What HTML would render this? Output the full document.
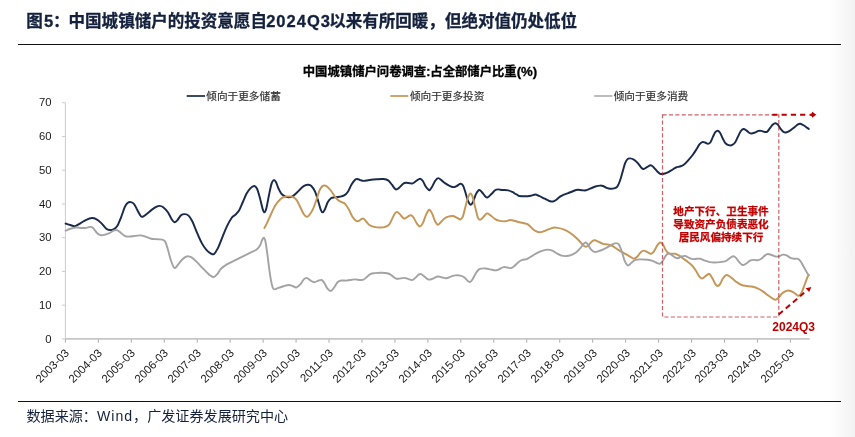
<!DOCTYPE html>
<html lang="zh"><head><meta charset="utf-8"><title>图5</title>
<style>
html,body{margin:0;padding:0;background:#fff;}
body{width:855px;height:437px;position:relative;overflow:hidden;font-family:"Liberation Sans","Noto Sans CJK SC",sans-serif;}
.grad{position:absolute;left:830px;top:0;width:25px;height:437px;background:linear-gradient(to right,#ffffff 0%,#f9f9f9 45%,#f2f2f2 100%);}
.title{position:absolute;left:26.3px;top:9.6px;-webkit-text-stroke:0.3px #14213d;font-size:16.55px;line-height:24px;font-weight:bold;color:#14213d;white-space:nowrap;}
.hr{position:absolute;left:18px;width:823px;height:1.3px;background:#111;}
.src{position:absolute;left:26.5px;top:406px;font-size:14.1px;line-height:20px;color:#14213d;white-space:nowrap;}
.src span{letter-spacing:1px;}
.title i{font-style:normal;position:relative;left:1.1px;}
.title span{letter-spacing:1px;margin-left:-0.8px;margin-right:-1.8px;}
.ct{position:absolute;left:300px;width:240px;top:62.8px;text-align:center;font-size:12.35px;line-height:18px;font-weight:bold;color:#000;white-space:nowrap;-webkit-text-stroke:0.3px #000;}
.ct span{font-size:13.2px;}
.lg{position:absolute;top:88.2px;font-size:10.65px;line-height:16px;color:#333;-webkit-text-stroke:0.2px #333;white-space:nowrap;}
.yl{position:absolute;left:19.6px;width:32px;text-align:right;font-size:11.3px;line-height:14px;color:#1a1a1a;}
.xl{position:absolute;top:343.9px;width:60px;text-align:right;font-size:11.4px;line-height:14px;color:#1a1a1a;transform-origin:100% 50%;transform:rotate(-45deg);white-space:nowrap;}
.note{position:absolute;left:661px;width:120px;top:205.3px;text-align:center;font-size:10.6px;line-height:13px;font-weight:bold;color:#c00000;-webkit-text-stroke:0.25px #c00000;white-space:nowrap;}
.q3{position:absolute;left:772.3px;top:319.9px;font-size:12px;line-height:14px;font-weight:bold;color:#c00000;white-space:nowrap;}
svg{position:absolute;left:0;top:0;}
</style></head><body>
<div class="grad"></div>
<div class="title">图<i>5：</i>中国城镇储户的投资意愿自<span>2024Q3</span>以来有所回暖，但绝对值仍处低位</div>
<div class="hr" style="top:44px"></div>
<div class="ct">中国城镇储户问卷调查:占全部储户比重<span>(%)</span></div>
<div class="lg" style="left:206.3px">倾向于更多储蓄</div>
<div class="lg" style="left:409.9px">倾向于更多投资</div>
<div class="lg" style="left:613.7px">倾向于更多消费</div>
<div class="yl" style="top:331.5px">0</div><div class="yl" style="top:297.8px">10</div><div class="yl" style="top:264.1px">20</div><div class="yl" style="top:230.3px">30</div><div class="yl" style="top:196.6px">40</div><div class="yl" style="top:162.8px">50</div><div class="yl" style="top:129.1px">60</div><div class="yl" style="top:95.4px">70</div>
<div class="xl" style="left:7.40px">2003-03</div><div class="xl" style="left:40.35px">2004-03</div><div class="xl" style="left:73.31px">2005-03</div><div class="xl" style="left:106.26px">2006-03</div><div class="xl" style="left:139.22px">2007-03</div><div class="xl" style="left:172.17px">2008-03</div><div class="xl" style="left:205.13px">2009-03</div><div class="xl" style="left:238.08px">2010-03</div><div class="xl" style="left:271.04px">2011-03</div><div class="xl" style="left:303.99px">2012-03</div><div class="xl" style="left:336.95px">2013-03</div><div class="xl" style="left:369.90px">2014-03</div><div class="xl" style="left:402.85px">2015-03</div><div class="xl" style="left:435.81px">2016-03</div><div class="xl" style="left:468.76px">2017-03</div><div class="xl" style="left:501.72px">2018-03</div><div class="xl" style="left:534.67px">2019-03</div><div class="xl" style="left:567.63px">2020-03</div><div class="xl" style="left:600.58px">2021-03</div><div class="xl" style="left:633.54px">2022-03</div><div class="xl" style="left:666.49px">2023-03</div><div class="xl" style="left:699.45px">2024-03</div><div class="xl" style="left:732.40px">2025-03</div>
<svg width="855" height="437" viewBox="0 0 855 437" fill="none">
<g stroke="#cccccc" stroke-width="1">
<line x1="65.4" y1="102.7" x2="65.4" y2="338.9"/>
<line x1="61.9" y1="338.90" x2="65.4" y2="338.90"/><line x1="61.9" y1="305.16" x2="65.4" y2="305.16"/><line x1="61.9" y1="271.42" x2="65.4" y2="271.42"/><line x1="61.9" y1="237.68" x2="65.4" y2="237.68"/><line x1="61.9" y1="203.94" x2="65.4" y2="203.94"/><line x1="61.9" y1="170.20" x2="65.4" y2="170.20"/><line x1="61.9" y1="136.46" x2="65.4" y2="136.46"/><line x1="61.9" y1="102.72" x2="65.4" y2="102.72"/>
</g>
<g stroke="#a8a8a8" stroke-width="1">
<line x1="65.40" y1="338.9" x2="65.40" y2="342.6"/><line x1="98.35" y1="338.9" x2="98.35" y2="342.6"/><line x1="131.31" y1="338.9" x2="131.31" y2="342.6"/><line x1="164.26" y1="338.9" x2="164.26" y2="342.6"/><line x1="197.22" y1="338.9" x2="197.22" y2="342.6"/><line x1="230.17" y1="338.9" x2="230.17" y2="342.6"/><line x1="263.13" y1="338.9" x2="263.13" y2="342.6"/><line x1="296.08" y1="338.9" x2="296.08" y2="342.6"/><line x1="329.04" y1="338.9" x2="329.04" y2="342.6"/><line x1="361.99" y1="338.9" x2="361.99" y2="342.6"/><line x1="394.95" y1="338.9" x2="394.95" y2="342.6"/><line x1="427.90" y1="338.9" x2="427.90" y2="342.6"/><line x1="460.85" y1="338.9" x2="460.85" y2="342.6"/><line x1="493.81" y1="338.9" x2="493.81" y2="342.6"/><line x1="526.76" y1="338.9" x2="526.76" y2="342.6"/><line x1="559.72" y1="338.9" x2="559.72" y2="342.6"/><line x1="592.67" y1="338.9" x2="592.67" y2="342.6"/><line x1="625.63" y1="338.9" x2="625.63" y2="342.6"/><line x1="658.58" y1="338.9" x2="658.58" y2="342.6"/><line x1="691.54" y1="338.9" x2="691.54" y2="342.6"/><line x1="724.49" y1="338.9" x2="724.49" y2="342.6"/><line x1="757.45" y1="338.9" x2="757.45" y2="342.6"/><line x1="790.40" y1="338.9" x2="790.40" y2="342.6"/>
</g>
<line x1="65.4" y1="338.85" x2="809.6" y2="338.85" stroke="#c6c6c6" stroke-width="1.9"/>
<line x1="186.7" y1="96" x2="205" y2="96" stroke="#1a2a4b" stroke-width="1.7"/>
<line x1="390.3" y1="96" x2="408.3" y2="96" stroke="#c59656" stroke-width="1.7"/>
<line x1="594.1" y1="96" x2="612.4" y2="96" stroke="#a6a6a6" stroke-width="1.5"/>
<g stroke-linecap="round" stroke-linejoin="round" stroke-width="1.95">
<path stroke="#1a2a4b" d="M65.63,223.52C66.41,223.77 68.76,224.59 70.32,225.02C71.88,225.46 73.29,226.46 75.01,226.15C76.73,225.84 78.76,224.21 80.64,223.15C82.52,222.08 84.39,220.61 86.27,219.77C88.15,218.92 90.18,218.14 91.90,218.08C93.62,218.02 95.03,218.55 96.59,219.39C98.15,220.24 99.72,221.65 101.28,223.15C102.85,224.65 104.57,227.24 105.97,228.40C107.38,229.56 108.47,229.93 109.73,230.09C110.98,230.25 112.23,230.03 113.48,229.34C114.73,228.65 115.98,227.93 117.23,225.96C118.48,223.99 119.73,220.64 120.98,217.52C122.23,214.39 123.64,209.60 124.74,207.20C125.83,204.79 126.55,203.91 127.55,203.07C128.55,202.22 129.65,201.97 130.74,202.13C131.84,202.29 133.02,202.69 134.12,204.01C135.21,205.32 136.21,208.01 137.31,210.01C138.40,212.01 139.81,214.89 140.69,216.02C141.56,217.14 141.62,217.05 142.56,216.77C143.50,216.49 144.75,215.52 146.32,214.33C147.88,213.14 150.23,210.92 151.95,209.64C153.67,208.35 155.39,207.26 156.64,206.63C157.89,206.01 158.36,205.79 159.45,205.88C160.55,205.98 161.80,206.13 163.20,207.20C164.61,208.26 166.42,210.17 167.89,212.26C169.36,214.36 170.93,218.11 172.02,219.77C173.12,221.43 173.59,222.11 174.46,222.21C175.34,222.30 176.18,221.49 177.28,220.33C178.37,219.17 179.78,216.30 181.03,215.27C182.28,214.23 183.53,214.08 184.78,214.14C186.03,214.20 187.28,214.45 188.54,215.64C189.79,216.83 190.88,218.46 192.29,221.27C193.70,224.08 195.42,228.93 196.98,232.53C198.54,236.13 200.11,239.97 201.67,242.85C203.23,245.73 204.80,248.01 206.36,249.79C207.93,251.57 209.80,252.83 211.05,253.54C212.30,254.26 212.79,254.88 213.87,254.11C214.94,253.34 216.12,251.67 217.51,248.93C218.89,246.19 220.63,241.43 222.20,237.68C223.76,233.92 225.32,229.70 226.89,226.42C228.45,223.13 230.17,219.91 231.58,217.97C232.99,216.03 234.08,216.03 235.33,214.78C236.58,213.53 237.83,212.59 239.08,210.47C240.34,208.34 241.59,204.84 242.84,202.02C244.09,199.21 245.34,195.86 246.59,193.58C247.84,191.30 249.09,189.58 250.34,188.32C251.59,187.07 253.00,186.04 254.10,186.07C255.19,186.10 255.97,186.64 256.91,188.51C257.85,190.39 258.79,193.99 259.73,197.33C260.66,200.68 261.76,206.09 262.54,208.59C263.32,211.09 263.79,212.34 264.42,212.34C265.04,212.34 265.51,211.56 266.29,208.59C267.07,205.62 268.23,198.68 269.11,194.52C269.98,190.36 270.77,186.04 271.55,183.63C272.33,181.23 273.05,180.29 273.80,180.07C274.55,179.85 275.27,180.91 276.05,182.32C276.83,183.73 277.61,186.64 278.49,188.51C279.37,190.39 280.21,192.27 281.30,193.58C282.40,194.89 283.81,195.77 285.06,196.39C286.31,197.02 287.56,197.33 288.81,197.33C290.06,197.33 291.16,197.24 292.56,196.39C293.97,195.55 295.69,193.77 297.25,192.27C298.82,190.76 300.54,188.58 301.95,187.39C303.35,186.20 304.70,185.57 305.70,185.14C306.70,184.70 307.01,184.60 307.95,184.76C308.89,184.92 310.14,184.92 311.33,186.07C312.52,187.23 313.99,189.36 315.08,191.70C316.17,194.05 316.96,197.18 317.89,200.15C318.83,203.12 319.93,207.50 320.71,209.53C321.49,211.56 321.90,212.34 322.59,212.34C323.27,212.34 323.96,211.25 324.84,209.53C325.71,207.81 326.81,203.90 327.84,202.02C328.87,200.15 329.87,199.05 331.03,198.27C332.19,197.49 333.38,197.58 334.78,197.33C336.19,197.08 337.91,197.08 339.47,196.77C341.04,196.46 342.76,196.30 344.16,195.46C345.57,194.61 346.67,193.58 347.92,191.70C349.17,189.83 350.42,186.23 351.67,184.20C352.92,182.16 354.49,180.38 355.42,179.51C356.36,178.63 356.52,178.85 357.30,178.94C358.08,179.04 359.03,179.75 360.11,180.07C361.20,180.39 362.27,180.89 363.81,180.88C365.35,180.87 367.20,180.28 369.38,180.01C371.56,179.74 374.54,179.42 376.89,179.26C379.23,179.10 381.58,178.89 383.46,179.07C385.33,179.26 386.74,179.45 388.15,180.39C389.55,181.32 390.80,183.36 391.90,184.70C392.99,186.05 393.93,187.67 394.71,188.46C395.50,189.24 395.81,189.55 396.59,189.39C397.37,189.24 398.31,188.46 399.41,187.52C400.50,186.58 402.06,184.55 403.16,183.76C404.25,182.98 404.88,182.92 405.97,182.83C407.07,182.73 408.63,183.11 409.73,183.20C410.82,183.30 411.45,183.76 412.54,183.39C413.63,183.01 415.04,181.73 416.29,180.95C417.54,180.17 418.95,178.70 420.05,178.70C421.14,178.70 421.92,179.64 422.86,180.95C423.80,182.26 424.74,185.11 425.68,186.58C426.61,188.05 427.80,189.21 428.49,189.77C429.18,190.33 429.18,190.49 429.80,189.96C430.43,189.42 431.37,188.08 432.24,186.58C433.12,185.08 434.06,182.36 435.06,180.95C436.06,179.54 437.15,178.23 438.25,178.14C439.34,178.04 440.44,179.51 441.62,180.39C442.81,181.26 443.97,182.45 445.38,183.39C446.78,184.33 448.66,185.39 450.07,186.02C451.48,186.64 452.73,187.14 453.82,187.14C454.92,187.14 455.54,186.58 456.64,186.02C457.73,185.45 459.36,183.89 460.39,183.76C461.42,183.64 462.05,184.01 462.83,185.27C463.61,186.52 464.24,188.71 465.08,191.27C465.92,193.83 466.96,198.40 467.89,200.65C468.83,202.90 469.83,204.62 470.71,204.78C471.59,204.94 472.27,203.37 473.15,201.59C474.02,199.81 474.96,196.02 475.96,194.08C476.96,192.15 478.15,190.27 479.15,189.96C480.15,189.64 480.94,191.11 481.97,192.21C483.00,193.30 484.41,195.65 485.35,196.52C486.28,197.40 486.60,197.87 487.60,197.46C488.60,197.06 490.10,195.27 491.35,194.08C492.60,192.90 494.01,191.11 495.10,190.33C496.20,189.55 496.67,189.46 497.92,189.39C499.17,189.33 500.89,189.80 502.61,189.96C504.33,190.11 506.52,189.96 508.24,190.33C509.96,190.71 511.85,191.68 512.93,192.21C514.00,192.73 513.91,193.01 514.69,193.48C515.47,193.95 516.84,194.62 517.62,195.02C518.40,195.43 518.15,195.71 519.38,195.92C520.61,196.13 523.14,196.32 525.01,196.29C526.89,196.26 528.92,196.04 530.64,195.73C532.36,195.42 533.92,194.39 535.33,194.42C536.74,194.45 537.52,195.20 539.08,195.92C540.65,196.64 542.99,197.89 544.71,198.73C546.43,199.58 548.06,200.51 549.41,200.98C550.75,201.45 551.69,201.70 552.78,201.55C553.88,201.39 554.82,200.83 555.97,200.05C557.13,199.26 558.47,197.73 559.73,196.86C560.98,195.98 562.07,195.42 563.48,194.79C564.89,194.17 566.61,193.70 568.17,193.10C569.73,192.51 571.30,191.79 572.86,191.23C574.42,190.66 575.99,189.88 577.55,189.73C579.12,189.57 580.84,190.19 582.24,190.29C583.65,190.38 584.59,190.60 586.00,190.29C587.40,189.98 589.12,189.04 590.69,188.41C592.25,187.79 593.81,187.00 595.38,186.54C596.94,186.07 598.82,185.69 600.07,185.60C601.32,185.50 601.79,185.60 602.88,185.97C603.98,186.35 605.39,187.38 606.64,187.85C607.89,188.32 609.14,188.69 610.39,188.79C611.64,188.88 612.98,188.79 614.14,188.41C615.30,188.04 616.39,187.72 617.33,186.54C618.27,185.35 618.90,183.72 619.77,181.28C620.65,178.84 621.71,174.87 622.59,171.90C623.46,168.93 624.24,165.55 625.03,163.46C625.81,161.36 626.43,160.17 627.28,159.33C628.12,158.48 629.00,158.33 630.09,158.39C631.19,158.45 632.59,158.95 633.84,159.70C635.10,160.45 636.35,161.55 637.60,162.89C638.85,164.24 640.32,166.74 641.35,167.77C642.38,168.80 642.85,169.18 643.79,169.08C644.73,168.99 645.82,167.83 646.98,167.21C648.14,166.58 649.64,165.33 650.73,165.33C651.83,165.33 652.45,166.18 653.55,167.21C654.64,168.24 656.21,170.43 657.30,171.52C658.39,172.62 659.18,173.37 660.11,173.78C661.05,174.18 661.85,174.10 662.93,173.96C664.00,173.82 665.18,173.54 666.57,172.93C667.96,172.32 669.69,171.21 671.26,170.30C672.82,169.39 674.54,168.11 675.95,167.49C677.36,166.86 678.45,166.95 679.70,166.55C680.95,166.14 682.05,166.08 683.46,165.05C684.86,164.01 686.58,162.07 688.15,160.35C689.71,158.63 691.43,156.60 692.84,154.73C694.24,152.85 695.50,150.82 696.59,149.10C697.68,147.38 698.47,145.56 699.41,144.41C700.34,143.25 701.28,142.47 702.22,142.15C703.16,141.84 704.10,142.25 705.03,142.53C705.97,142.81 706.97,143.84 707.85,143.84C708.72,143.84 709.44,143.69 710.29,142.53C711.13,141.37 712.07,138.62 712.92,136.90C713.76,135.18 714.54,133.24 715.35,132.21C716.17,131.18 717.01,130.61 717.79,130.71C718.58,130.80 719.20,131.43 720.05,132.77C720.89,134.12 721.92,136.99 722.86,138.78C723.80,140.56 724.58,142.37 725.68,143.47C726.77,144.56 728.33,145.09 729.43,145.34C730.52,145.59 731.30,145.44 732.24,144.97C733.18,144.50 734.12,143.87 735.06,142.53C736.00,141.18 736.93,138.78 737.87,136.90C738.81,135.02 739.75,132.58 740.69,131.27C741.62,129.96 742.56,129.17 743.50,129.02C744.44,128.86 745.38,129.71 746.32,130.33C747.25,130.96 748.25,132.24 749.13,132.77C750.01,133.30 750.63,133.55 751.57,133.52C752.51,133.49 753.60,133.02 754.76,132.58C755.92,132.15 757.42,131.18 758.51,130.89C759.61,130.61 760.39,130.74 761.33,130.89C762.27,131.05 763.20,131.68 764.14,131.83C765.08,131.99 766.02,132.40 766.96,131.83C767.89,131.27 768.83,129.64 769.77,128.46C770.71,127.27 771.65,125.58 772.59,124.70C773.52,123.83 774.52,123.20 775.40,123.20C776.28,123.20 776.90,123.67 777.84,124.70C778.78,125.73 780.03,128.14 781.03,129.39C782.03,130.64 782.91,131.74 783.84,132.21C784.78,132.68 785.56,132.52 786.66,132.21C787.75,131.90 789.16,131.11 790.41,130.33C791.66,129.55 792.91,128.52 794.16,127.52C795.42,126.52 796.89,124.95 797.92,124.33C798.95,123.70 799.42,123.61 800.36,123.76C801.30,123.92 802.39,124.58 803.55,125.27C804.70,125.95 806.42,127.27 807.30,127.89C808.18,128.52 808.55,128.83 808.80,129.02"/>
<path stroke="#c59656" d="M264.42,227.92C264.89,227.04 266.14,224.95 267.23,222.66C268.33,220.38 269.58,217.19 270.98,214.22C272.39,211.25 274.11,207.34 275.68,204.84C277.24,202.34 278.96,200.52 280.37,199.21C281.77,197.89 282.71,197.43 284.12,196.96C285.53,196.49 287.25,196.33 288.81,196.39C290.37,196.46 292.19,196.71 293.50,197.33C294.81,197.96 295.60,198.58 296.69,200.15C297.79,201.71 298.88,204.37 300.07,206.71C301.26,209.06 302.73,212.56 303.82,214.22C304.92,215.88 305.70,216.57 306.64,216.66C307.57,216.75 308.36,216.13 309.45,214.78C310.55,213.44 311.95,211.34 313.20,208.59C314.45,205.84 315.86,201.40 316.96,198.27C318.05,195.14 318.83,191.86 319.77,189.83C320.71,187.79 321.80,186.79 322.59,186.07C323.37,185.35 323.68,185.42 324.46,185.51C325.24,185.60 326.18,185.76 327.28,186.64C328.37,187.51 329.78,189.14 331.03,190.76C332.28,192.39 333.53,194.77 334.78,196.39C336.03,198.02 337.28,199.52 338.54,200.52C339.79,201.52 341.19,201.84 342.29,202.40C343.38,202.96 344.01,202.71 345.10,203.90C346.20,205.09 347.60,207.34 348.86,209.53C350.11,211.72 351.42,215.16 352.61,217.03C353.80,218.91 355.05,220.10 355.99,220.79C356.92,221.48 357.39,221.41 358.24,221.16C359.08,220.91 360.18,219.72 361.05,219.29C361.93,218.85 362.64,218.16 363.49,218.54C364.34,218.91 365.17,220.42 366.16,221.51C367.14,222.59 368.06,224.14 369.38,225.05C370.70,225.95 372.20,226.52 374.07,226.92C375.95,227.33 378.76,227.49 380.64,227.49C382.52,227.49 383.92,227.39 385.33,226.92C386.74,226.45 387.99,225.92 389.08,224.67C390.18,223.42 390.96,221.23 391.90,219.42C392.84,217.60 393.84,215.04 394.71,213.79C395.59,212.54 396.31,211.85 397.15,211.91C398.00,211.97 398.78,213.16 399.78,214.16C400.78,215.16 402.28,217.20 403.16,217.92C404.03,218.63 404.25,218.70 405.03,218.48C405.82,218.26 406.85,217.13 407.85,216.60C408.85,216.07 410.10,215.13 411.04,215.29C411.98,215.44 412.45,216.07 413.48,217.54C414.51,219.01 416.14,222.61 417.23,224.11C418.33,225.61 419.11,226.70 420.05,226.55C420.98,226.39 421.92,224.98 422.86,223.17C423.80,221.36 424.74,217.79 425.68,215.66C426.61,213.54 427.80,211.35 428.49,210.41C429.18,209.47 429.18,209.47 429.80,210.03C430.43,210.60 431.37,211.91 432.24,213.79C433.12,215.66 434.12,219.48 435.06,221.29C436.00,223.11 436.93,224.51 437.87,224.67C438.81,224.83 439.59,223.26 440.69,222.23C441.78,221.20 443.19,219.42 444.44,218.48C445.69,217.54 446.78,217.01 448.19,216.60C449.60,216.20 451.48,215.88 452.88,216.04C454.29,216.20 455.39,216.98 456.64,217.54C457.89,218.10 459.36,219.57 460.39,219.42C461.42,219.26 462.05,218.48 462.83,216.60C463.61,214.73 464.24,211.29 465.08,208.16C465.92,205.03 467.02,200.28 467.89,197.84C468.77,195.40 469.55,193.68 470.33,193.52C471.12,193.37 471.74,194.46 472.59,196.90C473.43,199.34 474.52,204.72 475.40,208.16C476.28,211.60 477.06,215.60 477.84,217.54C478.62,219.48 479.25,219.79 480.09,219.79C480.94,219.79 481.97,218.48 482.91,217.54C483.84,216.60 484.94,214.85 485.72,214.16C486.50,213.47 486.82,213.22 487.60,213.41C488.38,213.60 489.16,214.35 490.41,215.29C491.66,216.23 493.54,218.10 495.10,219.04C496.67,219.98 498.07,220.54 499.79,220.92C501.51,221.29 503.70,221.45 505.42,221.29C507.14,221.14 508.64,220.07 510.11,219.98C511.59,219.89 512.73,220.37 514.28,220.75C515.82,221.13 517.75,221.85 519.38,222.26C521.01,222.67 522.67,222.86 524.07,223.20C525.48,223.55 526.58,223.55 527.83,224.33C529.08,225.11 530.33,226.80 531.58,227.89C532.83,228.99 534.08,230.18 535.33,230.89C536.58,231.61 537.68,232.15 539.08,232.21C540.49,232.27 542.21,231.74 543.78,231.27C545.34,230.80 546.90,229.99 548.47,229.39C550.03,228.80 551.59,227.95 553.16,227.70C554.72,227.45 556.13,227.61 557.85,227.89C559.57,228.17 561.60,228.67 563.48,229.39C565.35,230.11 567.23,231.02 569.11,232.21C570.98,233.40 573.02,235.05 574.74,236.52C576.46,237.99 578.02,239.56 579.43,241.03C580.84,242.50 582.09,244.37 583.18,245.34C584.28,246.31 585.06,246.94 586.00,246.84C586.93,246.75 587.78,245.72 588.81,244.78C589.84,243.84 591.19,241.97 592.19,241.22C593.19,240.46 593.81,240.21 594.81,240.28C595.82,240.34 596.85,241.00 598.19,241.59C599.54,242.18 601.32,243.37 602.88,243.84C604.45,244.31 606.01,244.06 607.57,244.41C609.14,244.75 610.55,245.03 612.27,245.91C613.99,246.78 616.02,248.50 617.89,249.66C619.77,250.82 621.65,251.79 623.52,252.85C625.40,253.91 627.59,255.10 629.15,256.04C630.72,256.98 631.97,258.07 632.91,258.48C633.84,258.88 634.00,258.85 634.78,258.48C635.56,258.10 636.57,257.32 637.60,256.23C638.63,255.13 639.94,252.85 640.97,251.91C642.01,250.97 642.79,250.60 643.79,250.60C644.79,250.60 645.82,251.38 646.98,251.91C648.14,252.44 649.64,253.79 650.73,253.79C651.83,253.79 652.45,253.32 653.55,251.91C654.64,250.50 656.21,246.91 657.30,245.34C658.39,243.78 659.18,242.68 660.11,242.53C661.05,242.37 662.00,243.16 662.93,244.41C663.86,245.65 664.77,248.53 665.69,249.99C666.61,251.44 667.52,252.52 668.44,253.14C669.37,253.75 670.16,253.60 671.26,253.70C672.35,253.79 673.76,253.42 675.01,253.70C676.26,253.98 677.36,254.54 678.76,255.39C680.17,256.23 681.89,257.64 683.46,258.76C685.02,259.89 686.58,260.89 688.15,262.14C689.71,263.39 691.43,264.64 692.84,266.27C694.24,267.90 695.50,270.18 696.59,271.90C697.68,273.62 698.47,275.50 699.41,276.59C700.34,277.68 701.28,278.47 702.22,278.47C703.16,278.47 704.10,277.28 705.03,276.59C705.97,275.90 707.07,274.75 707.85,274.34C708.63,273.93 708.94,273.46 709.73,274.15C710.51,274.84 711.60,276.81 712.54,278.47C713.48,280.12 714.48,282.85 715.35,284.10C716.23,285.35 717.01,285.97 717.79,285.97C718.58,285.97 719.20,285.35 720.05,284.10C720.89,282.85 721.92,279.94 722.86,278.47C723.80,277.00 724.74,275.75 725.68,275.28C726.61,274.81 727.40,275.12 728.49,275.65C729.58,276.18 730.84,277.37 732.24,278.47C733.65,279.56 735.37,281.13 736.93,282.22C738.50,283.31 740.06,284.41 741.62,285.03C743.19,285.66 744.60,285.72 746.32,285.97C748.04,286.22 750.07,286.13 751.95,286.54C753.82,286.94 755.70,287.57 757.57,288.41C759.45,289.26 761.33,290.35 763.20,291.60C765.08,292.85 767.11,294.67 768.83,295.92C770.55,297.17 772.34,298.48 773.52,299.11C774.71,299.73 775.12,299.89 775.96,299.67C776.81,299.45 777.59,298.83 778.59,297.79C779.59,296.76 780.78,294.60 781.97,293.48C783.16,292.35 784.47,291.51 785.72,291.04C786.97,290.57 788.22,290.48 789.47,290.66C790.72,290.85 791.98,291.45 793.23,292.16C794.48,292.88 795.98,294.39 796.98,294.98C797.98,295.57 798.45,296.14 799.23,295.73C800.01,295.32 800.79,294.32 801.67,292.54C802.55,290.76 803.55,287.54 804.49,285.03C805.42,282.53 806.58,279.19 807.30,277.53C808.02,275.87 808.55,275.50 808.80,275.09"/>
<path stroke="#a3a3a3" stroke-width="1.9" d="M65.63,230.65C66.41,230.34 68.60,229.31 70.32,228.78C72.04,228.24 74.07,227.59 75.95,227.46C77.83,227.34 79.86,227.96 81.58,228.03C83.30,228.09 84.86,228.03 86.27,227.84C87.68,227.65 88.93,226.90 90.02,226.90C91.12,226.90 91.74,226.90 92.84,227.84C93.93,228.78 95.43,231.34 96.59,232.53C97.75,233.72 98.69,234.53 99.78,234.97C100.87,235.41 101.66,235.41 103.16,235.16C104.66,234.91 107.07,234.22 108.79,233.47C110.51,232.72 112.07,231.18 113.48,230.65C114.89,230.12 115.98,229.90 117.23,230.28C118.48,230.65 119.73,231.97 120.98,232.90C122.23,233.84 123.49,235.28 124.74,235.91C125.99,236.53 126.77,236.66 128.49,236.66C130.21,236.66 133.02,236.13 135.06,235.91C137.09,235.69 138.97,235.22 140.69,235.34C142.41,235.47 143.66,236.09 145.38,236.66C147.10,237.22 148.97,238.28 151.01,238.72C153.04,239.16 155.70,239.13 157.57,239.28C159.45,239.44 161.01,239.28 162.27,239.66C163.52,240.03 164.14,239.91 165.08,241.54C166.02,243.16 166.96,246.38 167.89,249.42C168.83,252.45 169.77,256.83 170.71,259.74C171.65,262.65 172.74,265.52 173.52,266.87C174.31,268.21 174.62,268.21 175.40,267.81C176.18,267.40 177.12,265.77 178.22,264.43C179.31,263.08 180.72,260.99 181.97,259.74C183.22,258.49 184.63,257.49 185.72,256.92C186.82,256.36 187.44,256.20 188.54,256.36C189.63,256.52 190.88,256.89 192.29,257.86C193.70,258.83 195.26,260.46 196.98,262.18C198.70,263.90 200.73,266.24 202.61,268.18C204.49,270.12 207.01,272.63 208.24,273.81C209.47,274.99 209.08,274.73 210.00,275.29C210.92,275.85 212.50,277.41 213.75,277.16C215.00,276.91 216.25,275.23 217.51,273.79C218.76,272.35 219.69,270.10 221.26,268.53C222.82,266.97 224.70,265.72 226.89,264.41C229.08,263.09 231.89,261.90 234.39,260.65C236.90,259.40 239.40,258.15 241.90,256.90C244.40,255.65 247.06,254.30 249.41,253.15C251.75,251.99 254.25,251.14 255.97,249.96C257.69,248.77 258.69,247.67 259.73,246.02C260.76,244.36 261.48,241.39 262.16,240.01C262.85,238.64 263.32,237.60 263.85,237.76C264.39,237.92 264.79,238.39 265.35,240.95C265.92,243.51 266.61,248.61 267.23,253.15C267.86,257.68 268.48,263.62 269.11,268.16C269.73,272.69 270.36,277.07 270.98,280.35C271.61,283.64 272.23,286.36 272.86,287.86C273.49,289.36 273.80,289.36 274.74,289.36C275.68,289.36 276.93,288.42 278.49,287.86C280.05,287.30 282.40,286.45 284.12,285.98C285.84,285.51 287.40,285.05 288.81,285.05C290.22,285.05 291.31,285.58 292.56,285.98C293.81,286.39 295.06,287.70 296.32,287.49C297.57,287.27 298.82,286.02 300.07,284.67C301.32,283.33 302.73,280.54 303.82,279.42C304.92,278.29 305.54,277.76 306.64,277.92C307.73,278.07 309.14,279.64 310.39,280.35C311.64,281.07 312.89,282.14 314.14,282.23C315.39,282.32 316.64,281.29 317.89,280.92C319.15,280.54 320.55,279.60 321.65,279.98C322.74,280.35 323.52,281.76 324.46,283.17C325.40,284.58 326.24,287.11 327.28,288.42C328.31,289.74 329.56,291.14 330.65,291.05C331.75,290.96 332.69,289.33 333.84,287.86C335.00,286.39 336.35,283.45 337.60,282.23C338.85,281.01 339.79,280.82 341.35,280.54C342.91,280.26 344.79,280.73 346.98,280.54C349.17,280.35 352.30,279.51 354.49,279.42C356.67,279.32 358.63,279.93 360.11,279.98C361.60,280.03 362.30,280.17 363.38,279.73C364.45,279.28 365.41,278.22 366.57,277.29C367.72,276.35 368.91,274.78 370.32,274.10C371.73,273.41 373.14,273.38 375.01,273.16C376.89,272.94 379.39,272.72 381.58,272.78C383.77,272.85 386.43,273.06 388.15,273.53C389.87,274.00 390.65,274.78 391.90,275.60C393.15,276.41 394.56,277.88 395.65,278.41C396.75,278.94 397.06,278.88 398.47,278.79C399.87,278.69 402.53,277.85 404.10,277.85C405.66,277.85 406.50,278.41 407.85,278.79C409.19,279.16 410.91,280.26 412.16,280.10C413.42,279.94 414.29,278.76 415.35,277.85C416.42,276.94 417.61,275.28 418.54,274.66C419.48,274.03 420.11,273.88 420.98,274.10C421.86,274.32 422.70,275.13 423.80,275.97C424.89,276.82 426.46,278.57 427.55,279.16C428.65,279.76 429.27,279.73 430.37,279.54C431.46,279.35 432.87,278.54 434.12,278.04C435.37,277.54 436.62,276.66 437.87,276.54C439.12,276.41 440.22,277.00 441.62,277.29C443.03,277.57 444.75,278.35 446.32,278.22C447.88,278.10 449.44,277.00 451.01,276.54C452.57,276.07 454.13,275.57 455.70,275.41C457.26,275.25 458.98,275.28 460.39,275.60C461.80,275.91 462.89,276.38 464.14,277.29C465.39,278.19 466.89,280.26 467.89,281.04C468.90,281.82 469.36,282.29 470.15,281.98C470.93,281.66 471.71,280.48 472.59,279.16C473.46,277.85 474.46,275.63 475.40,274.10C476.34,272.56 477.28,270.87 478.22,269.97C479.15,269.06 479.78,268.90 481.03,268.65C482.28,268.40 484.16,268.34 485.72,268.47C487.28,268.59 488.85,269.09 490.41,269.41C491.98,269.72 493.70,270.34 495.10,270.34C496.51,270.34 497.45,269.94 498.86,269.41C500.26,268.87 502.14,267.47 503.55,267.15C504.95,266.84 506.05,267.37 507.30,267.53C508.55,267.68 509.89,268.33 511.05,268.09C512.22,267.85 513.05,267.08 514.28,266.10C515.51,265.12 517.12,263.25 518.44,262.23C519.76,261.21 520.79,260.51 522.20,259.98C523.60,259.45 525.32,259.67 526.89,259.04C528.45,258.42 529.86,257.26 531.58,256.23C533.30,255.19 535.33,253.79 537.21,252.85C539.08,251.91 541.12,251.13 542.84,250.60C544.56,250.07 545.96,249.66 547.53,249.66C549.09,249.66 550.66,249.97 552.22,250.60C553.78,251.22 555.35,252.57 556.91,253.41C558.47,254.26 560.04,255.23 561.60,255.66C563.17,256.10 564.73,256.13 566.29,256.04C567.86,255.95 569.42,255.63 570.98,255.10C572.55,254.57 574.11,254.01 575.68,252.85C577.24,251.69 579.12,249.57 580.37,248.16C581.62,246.75 582.34,245.34 583.18,244.41C584.03,243.47 584.65,242.53 585.43,242.53C586.21,242.53 587.00,243.31 587.87,244.41C588.75,245.50 589.59,247.85 590.69,249.10C591.78,250.35 593.03,251.60 594.44,251.91C595.85,252.22 597.57,251.44 599.13,250.97C600.69,250.50 602.26,249.82 603.82,249.10C605.39,248.38 607.11,247.44 608.51,246.66C609.92,245.87 611.01,245.00 612.27,244.41C613.52,243.81 614.92,243.09 616.02,243.09C617.11,243.09 617.89,243.09 618.83,244.41C619.77,245.72 620.71,248.31 621.65,250.97C622.59,253.63 623.52,258.01 624.46,260.35C625.40,262.70 626.50,264.26 627.28,265.05C628.06,265.83 628.37,265.51 629.15,265.05C629.94,264.58 630.87,263.11 631.97,262.23C633.06,261.36 634.16,260.26 635.72,259.79C637.28,259.32 639.32,259.42 641.35,259.42C643.38,259.42 646.04,259.54 647.92,259.79C649.79,260.04 651.05,260.35 652.61,260.92C654.17,261.48 656.05,262.70 657.30,263.17C658.55,263.64 659.19,264.13 660.11,263.73C661.04,263.33 661.95,262.08 662.87,260.78C663.79,259.48 664.70,257.16 665.63,255.95C666.56,254.74 667.51,253.73 668.44,253.51C669.38,253.29 670.16,253.98 671.26,254.64C672.35,255.29 673.92,256.86 675.01,257.45C676.11,258.05 676.73,258.36 677.83,258.20C678.92,258.05 680.33,256.89 681.58,256.51C682.83,256.14 684.08,255.73 685.33,255.95C686.58,256.17 687.83,257.29 689.08,257.83C690.34,258.36 691.59,258.98 692.84,259.14C694.09,259.30 695.34,258.83 696.59,258.76C697.84,258.70 698.94,258.45 700.34,258.76C701.75,259.08 703.47,260.08 705.03,260.64C706.60,261.20 708.16,261.83 709.73,262.14C711.29,262.45 712.70,262.52 714.42,262.52C716.14,262.52 718.17,262.39 720.05,262.14C721.92,261.89 724.11,261.64 725.68,261.02C727.24,260.39 728.18,259.17 729.43,258.39C730.68,257.61 732.09,256.42 733.18,256.32C734.28,256.23 735.06,256.95 736.00,257.83C736.93,258.70 737.72,260.39 738.81,261.58C739.90,262.77 741.31,264.64 742.56,264.96C743.81,265.27 745.06,264.17 746.32,263.46C747.57,262.74 748.82,261.23 750.07,260.64C751.32,260.05 752.57,259.95 753.82,259.89C755.07,259.83 756.32,260.45 757.57,260.27C758.83,260.08 760.08,259.58 761.33,258.76C762.58,257.95 763.99,256.17 765.08,255.39C766.17,254.60 766.80,254.14 767.89,254.07C768.99,254.01 770.40,254.60 771.65,255.01C772.90,255.42 774.15,256.29 775.40,256.51C776.65,256.73 777.90,256.64 779.15,256.32C780.40,256.01 781.66,254.79 782.91,254.64C784.16,254.48 785.41,254.86 786.66,255.39C787.91,255.92 789.16,257.26 790.41,257.83C791.66,258.39 792.91,258.61 794.16,258.76C795.42,258.92 796.82,258.30 797.92,258.76C799.01,259.23 799.64,260.02 800.73,261.58C801.83,263.14 803.39,266.21 804.49,268.15C805.58,270.09 806.58,272.06 807.30,273.21C808.02,274.37 808.55,274.78 808.80,275.09"/>
</g>
<path d="M662.5,114.8 H778.8 V317 H662.5 Z" stroke="#b8242e" stroke-opacity="0.72" stroke-width="1.2" stroke-dasharray="4.1 2.3"/>
<path d="M772.3,114.8 H806" stroke="#c00000" stroke-width="2" stroke-dasharray="5.2 4.05"/>
<path d="M809.5,113.9 L811.6,113.6 L812.2,111.8 L816.3,114.8 L812.2,117.8 L811.6,116 L809.5,115.7 Z" fill="#c00000"/>
<path d="M778.6,314.6 L804.2,292.8" stroke="#c00000" stroke-width="2" stroke-dasharray="5.6 3.8"/>
<path d="M811.4,287.1 L805.7,288.3 L809.1,292 Z" fill="#c00000"/>
</svg>
<div class="note">地产下行、卫生事件<br>导致资产负债表恶化<br>居民风偏持续下行</div>
<div class="q3">2024Q3</div>
<div class="src">数据来源：<span>Wind</span>，广发证券发展研究中心</div>
<div class="hr" style="top:400.8px;height:1.2px"></div>
</body></html>
